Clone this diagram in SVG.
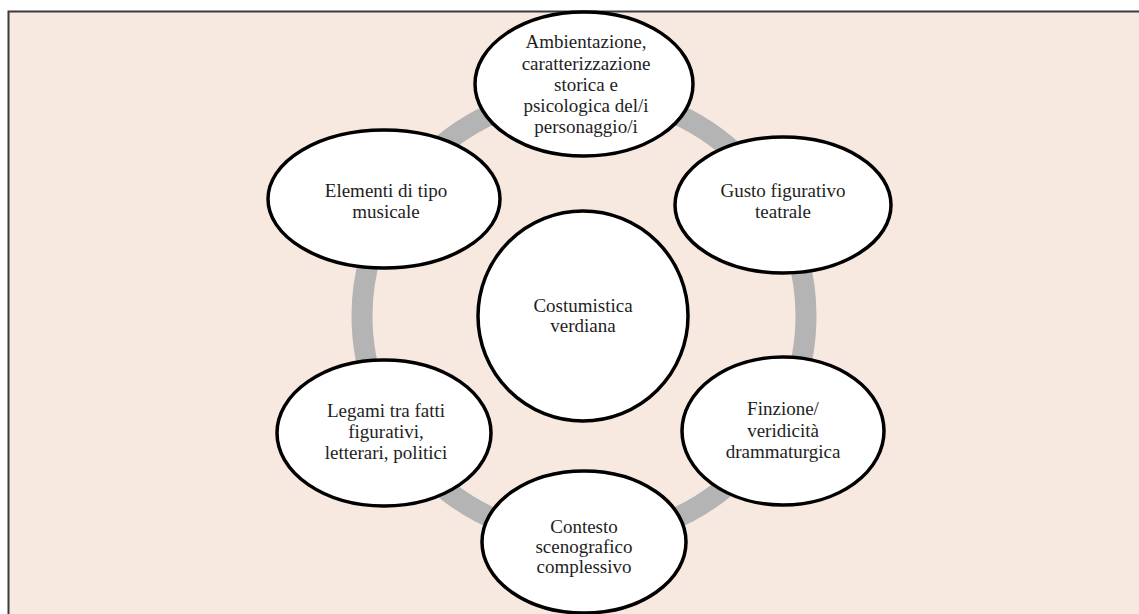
<svg xmlns="http://www.w3.org/2000/svg" width="1139" height="614" viewBox="0 0 1139 614">
<style>
.node{fill:#ffffff;stroke:#000000;stroke-width:3.5}
.lbl{font-family:"Liberation Serif","Times New Roman",serif;font-size:19px;fill:#1e1e1e;text-anchor:middle}
.ring{fill:none;stroke:#b4b4b4;stroke-width:21}
</style>
<rect x="0" y="0" width="1139" height="614" fill="#ffffff"/>
<rect x="8.5" y="11.5" width="1140" height="620" fill="#f8e9e0" stroke="#3a3a3a" stroke-width="2"/>
<g id="connectors">
<circle class="ring" cx="584" cy="316" r="222"/>
</g>
<g id="node-centro">
<circle class="node" cx="583" cy="316" r="105"/>
<text class="lbl"><tspan x="583" y="312">Costumistica</tspan><tspan x="583" y="332">verdiana</tspan></text>
</g>
<g id="node-ambientazione">
<ellipse class="node" cx="584" cy="84" rx="109" ry="72"/>
<text class="lbl"><tspan x="586" y="48">Ambientazione,</tspan><tspan x="586" y="70">caratterizzazione</tspan><tspan x="586" y="91">storica e</tspan><tspan x="586" y="112">psicologica del/i</tspan><tspan x="586" y="133">personaggio/i</tspan></text>
</g>
<g id="node-elementi">
<ellipse class="node" cx="384" cy="199" rx="116" ry="69"/>
<text class="lbl"><tspan x="386" y="197">Elementi di tipo</tspan><tspan x="386" y="218">musicale</tspan></text>
</g>
<g id="node-gusto">
<ellipse class="node" cx="783" cy="205" rx="108" ry="68"/>
<text class="lbl"><tspan x="783" y="197">Gusto figurativo</tspan><tspan x="783" y="218">teatrale</tspan></text>
</g>
<g id="node-legami">
<ellipse class="node" cx="384" cy="433" rx="107" ry="73"/>
<text class="lbl"><tspan x="386" y="417">Legami tra fatti</tspan><tspan x="386" y="438">figurativi,</tspan><tspan x="386" y="459">letterari, politici</tspan></text>
</g>
<g id="node-finzione">
<ellipse class="node" cx="783" cy="431" rx="101" ry="74"/>
<text class="lbl"><tspan x="783" y="415">Finzione/</tspan><tspan x="783" y="437">veridicità</tspan><tspan x="783" y="458">drammaturgica</tspan></text>
</g>
<g id="node-contesto">
<ellipse class="node" cx="584" cy="542" rx="102" ry="71"/>
<text class="lbl"><tspan x="584" y="533">Contesto</tspan><tspan x="584" y="553">scenografico</tspan><tspan x="584" y="573">complessivo</tspan></text>
</g>
</svg>
